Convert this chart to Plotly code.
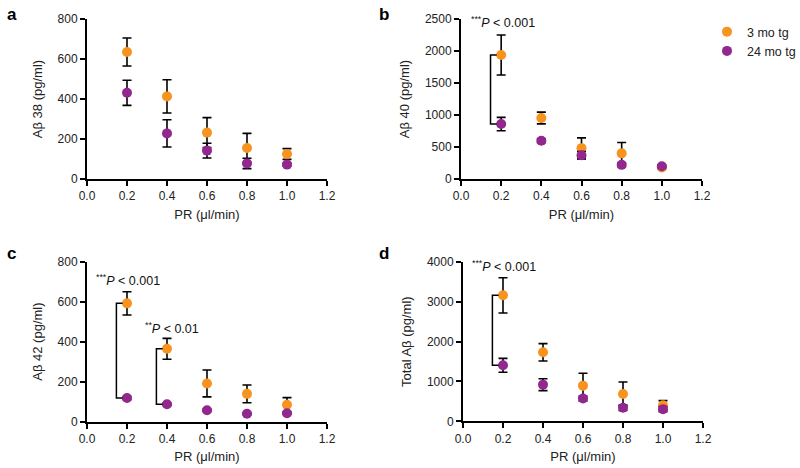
import plotly.graph_objects as go

# ---- data ----
pr = [0.2, 0.4, 0.6, 0.8, 1.0]

ab38_3mo = [635, 413, 232, 155, 125]
ab38_3mo_err = [70, 83, 75, 73, 27]
ab38_24mo = [431, 228, 142, 78, 72]
ab38_24mo_err = [63, 68, 37, 26, 8]

ab40_3mo = [1937, 953, 482, 401, 180]
ab40_3mo_err = [312, 92, 160, 170, 20]
ab40_24mo = [859, 598, 372, 221, 200]
ab40_24mo_err = [104, 30, 58, 30, 20]

ab42_3mo = [591, 364, 191, 139, 85]
ab42_3mo_err = [58, 52, 67, 44, 35]
ab42_24mo = [118, 87, 57, 40, 42]
ab42_24mo_err = [8, 6, 6, 5, 5]

abtot_3mo = [3163, 1732, 895, 686, 400]
abtot_3mo_err = [443, 218, 310, 300, 118]
abtot_24mo = [1406, 920, 572, 340, 305]
abtot_24mo_err = [175, 150, 60, 66, 62]

series_names = ["3 mo tg", "24 mo tg"]
ORANGE = "#F7931E"
PURPLE = "#92278F"

panels = [
    dict(lab="a", y3=ab38_3mo, e3=ab38_3mo_err, y24=ab38_24mo, e24=ab38_24mo_err,
         ytitle="Aβ 38 (pg/ml)", yrange=[0, 800], dtick=200,
         sig=[]),
    dict(lab="b", y3=ab40_3mo, e3=ab40_3mo_err, y24=ab40_24mo, e24=ab40_24mo_err,
         ytitle="Aβ 40 (pg/ml)", yrange=[0, 2500], dtick=500,
         sig=[(0, "<sup>***</sup><i>P</i> < 0.001", 0.207, 2453)]),
    dict(lab="c", y3=ab42_3mo, e3=ab42_3mo_err, y24=ab42_24mo, e24=ab42_24mo_err,
         ytitle="Aβ 42 (pg/ml)", yrange=[0, 800], dtick=200,
         sig=[(0, "<sup>***</sup><i>P</i> < 0.001", 0.2035, 707),
              (1, "<sup>**</sup><i>P</i> < 0.01", 0.424, 466)]),
    dict(lab="d", y3=abtot_3mo, e3=abtot_3mo_err, y24=abtot_24mo, e24=abtot_24mo_err,
         ytitle="Total Aβ (pg/ml)", yrange=[0, 4000], dtick=1000,
         sig=[(0, "<sup>***</sup><i>P</i> < 0.001", 0.206, 3892)]),
]

W, H = 800, 468
# plot-area pixel boxes (left, right, top, bottom)
boxes = [(87, 327, 19, 179), (461, 702, 19, 179), (87, 327, 261.5, 421.7), (463, 703, 262, 421.3)]
label_pos = [(5, 15), (377, 15), (5, 254), (377, 254)]

FONT = "Liberation Sans, Arial, Helvetica, sans-serif"
fig = go.Figure()
shapes = []
annotations = []

for i, p in enumerate(panels):
    n = "" if i == 0 else str(i + 1)
    xa, ya = "x" + n, "y" + n
    fig.add_trace(go.Scatter(
        x=pr, y=p["y3"], mode="markers", name=series_names[0],
        marker=dict(color=ORANGE, size=10),
        error_y=dict(type="data", array=p["e3"], color="black", thickness=1.6, width=4.5),
        xaxis=xa, yaxis=ya, showlegend=(i == 1), legendrank=1))
    fig.add_trace(go.Scatter(
        x=pr, y=p["y24"], mode="markers", name=series_names[1],
        marker=dict(color=PURPLE, size=10),
        error_y=dict(type="data", array=p["e24"], color="black", thickness=1.6, width=4.5),
        xaxis=xa, yaxis=ya, showlegend=(i == 1), legendrank=2))

    l, r, t, b = boxes[i]
    axx = dict(domain=[l / W, r / W], range=[0, 1.2], dtick=0.2, tick0=0, tickformat=".1f",
               showline=True, linewidth=2, linecolor="black", ticks="outside", ticklen=5,
               tickwidth=2, tickcolor="black", showgrid=False, zeroline=False,
               tickfont=dict(size=12, color="#222", family=FONT),
               title=dict(text="PR (μl/min)", font=dict(size=13, color="#222", family=FONT), standoff=7),
               anchor=ya, fixedrange=True, automargin=False)
    axy = dict(domain=[1 - b / H, 1 - t / H], range=p["yrange"], dtick=p["dtick"], tick0=0,
               showline=True, linewidth=2, linecolor="black", ticks="outside", ticklen=5,
               tickwidth=2, tickcolor="black", showgrid=False, zeroline=False,
               tickfont=dict(size=12, color="#222", family=FONT),
               title=dict(text=p["ytitle"], font=dict(size=13, color="#222", family=FONT), standoff=12),
               anchor=xa, fixedrange=True, automargin=False)
    fig.update_layout({"xaxis" + n: axx, "yaxis" + n: axy})

    # panel label
    lx, ly = label_pos[i]
    annotations.append(dict(text="<b>%s</b>" % p["lab"], x=lx / W, y=1 - ly / H, xref="paper", yref="paper",
                            xanchor="left", yanchor="middle", showarrow=False,
                            font=dict(size=17, color="black", family=FONT)))

    # significance brackets
    for (k, txt, tx, ty) in p["sig"]:
        xv = pr[k]
        xl = xv - 0.053
        xr = xv - 0.022
        y1, y2 = p["y3"][k], p["y24"][k]
        shapes.append(dict(type="path", xref=xa, yref=ya,
                           path="M %f %f L %f %f L %f %f L %f %f" % (xr, y1, xl, y1, xl, y2, xr, y2),
                           line=dict(color="black", width=1.5)))
        annotations.append(dict(text=txt, x=tx, y=ty, xref=xa, yref=ya, showarrow=False,
                                xanchor="center", yanchor="middle",
                                font=dict(size=12.5, color="#111", family=FONT)))

fig.update_layout(
    width=W, height=H, margin=dict(l=0, r=0, t=0, b=0, autoexpand=False),
    paper_bgcolor="white", plot_bgcolor="white",
    font=dict(family=FONT, color="#222"),
    shapes=shapes, annotations=annotations,
    legend=dict(x=707 / W, y=1 - 17 / H, xanchor="left", yanchor="top",
                font=dict(size=12.5, color="#222", family=FONT),
                itemwidth=30, tracegroupgap=0, bgcolor="rgba(0,0,0,0)"),
)

fig.write_html("out.html", config={"displayModeBar": False},
               post_script="document.body.style.margin='0';document.body.style.overflow='hidden';")
